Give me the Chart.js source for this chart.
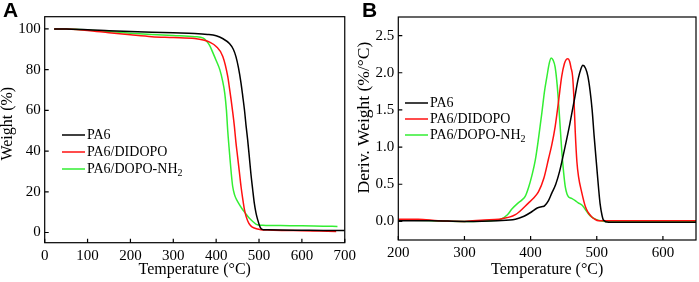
<!DOCTYPE html>
<html>
<head>
<meta charset="utf-8">
<script src="https://cdn.jsdelivr.net/npm/chart.js@4.4.0/dist/chart.umd.min.js"></script>
<style>
  body { margin: 0; background: #fff; }
  #wrap { position: relative; width: 699px; height: 282px; overflow: hidden; }
  canvas { position: absolute; top: 0; }
  .tag { position: absolute; top: -1px; font: bold 21px "Liberation Sans", Arial, sans-serif; line-height: 1; color: #000; }
</style>
</head>
<body>
<div id="wrap">
  <canvas id="tga" width="360" height="282" style="left:0"></canvas>
  <canvas id="dtg" width="350" height="282" style="left:349px"></canvas>
  <div class="tag" style="left:3px">A</div>
  <div class="tag" style="left:362px">B</div>
</div>
<script>
// series names and tick labels
const series_names = ['PA6', 'PA6/DIDOPO', 'PA6/DOPO-NH₂'];
const series_colors = ['#000000', '#ff1010', '#33ee33'];

const tga_x_ticks = [0, 100, 200, 300, 400, 500, 600, 700];
const tga_y_ticks = [0, 20, 40, 60, 80, 100];
const dtg_x_ticks = [200, 300, 400, 500, 600];
const dtg_y_ticks = [0, 0.5, 1.0, 1.5, 2.0, 2.5];

// TGA curves (weight %)
const tga_pa6_temp = [22, 50, 100, 150, 200, 250, 300, 350, 380, 400, 415, 431, 440, 446, 452, 458, 462, 466, 470, 473.5, 477, 481, 485, 489, 493, 497, 501, 505, 510, 520, 550, 600, 650, 700];
const tga_pa6_weight = [100, 99.9, 99.6, 99.1, 98.7, 98.4, 98.1, 97.8, 97.3, 96.6, 95.3, 92.8, 90, 86.5, 81, 73.4, 67, 60.3, 52, 45.5, 38, 29, 21.5, 14.4, 9.5, 6.2, 3.5, 1.8, 1.4, 1.3, 1.2, 1.1, 1.0, 1.0];

const tga_didopo_temp = [22, 50, 100, 150, 200, 250, 300, 350, 370, 385, 400, 415.5, 427, 431, 435, 439, 442.6, 446, 450, 454, 458, 462, 466, 470, 476, 482, 489, 496, 504, 520, 560, 600, 640, 680];
const tga_didopo_weight = [100, 99.9, 99.2, 98.1, 97.1, 96.2, 95.8, 95.3, 94.6, 93.5, 91.4, 86.5, 76.7, 71, 65, 58.5, 52, 44.5, 37.3, 30, 22.6, 16.5, 11.2, 7.8, 4.6, 3, 2.2, 1.7, 1.4, 1.2, 1.0, 0.9, 0.7, 0.5];

const tga_nh2_temp = [22, 50, 100, 150, 200, 250, 300, 350, 370, 377, 385, 393, 400, 408.5, 415, 420, 424, 427, 430, 432.5, 435.5, 438.6, 443, 448, 455, 462, 470, 477, 486, 496, 506, 516, 550, 600, 650, 683];
const tga_nh2_weight = [100, 99.9, 99.5, 98.7, 97.9, 97.3, 96.8, 96.2, 95.5, 94.2, 91.8, 88, 84.5, 80, 74.5, 68.5, 60, 50, 42, 35.7, 28.5, 22.6, 18.5, 16, 13.5, 11.2, 9, 7.1, 5.3, 3.8, 3.6, 3.5, 3.4, 3.3, 3.1, 3.0];

// DTG curves (%/°C)
const dtg_pa6_temp = [200, 250, 300, 350, 377, 390, 400, 410, 418, 421, 427, 432, 438, 444, 451, 459, 466, 472, 476, 479, 483, 486.6, 490, 493, 496, 500, 503, 505, 508, 510, 518, 550, 600, 650];
const dtg_pa6_deriv = [0.01, 0.01, 0.0, 0.01, 0.03, 0.07, 0.12, 0.18, 0.2, 0.21, 0.28, 0.38, 0.5, 0.68, 0.96, 1.3, 1.63, 1.92, 2.05, 2.1, 2.06, 1.95, 1.75, 1.5, 1.15, 0.73, 0.42, 0.24, 0.08, 0.02, -0.01, -0.01, -0.01, -0.01];

const dtg_didopo_temp = [200, 230, 260, 300, 330, 352, 377, 397, 405, 412, 420, 427, 432, 437, 442, 447, 451, 454, 456.5, 459, 461, 463.5, 465.5, 467.5, 470, 472.5, 477, 482.7, 487, 492.6, 497, 502.7, 520, 600, 650];
const dtg_didopo_deriv = [0.03, 0.03, 0.01, 0.0, 0.02, 0.03, 0.09, 0.25, 0.32, 0.4, 0.58, 0.84, 1.03, 1.27, 1.6, 1.95, 2.12, 2.18, 2.19, 2.15, 2.07, 1.95, 1.65, 1.2, 0.8, 0.6, 0.4, 0.2, 0.12, 0.06, 0.03, 0.01, 0.01, 0.01, 0.01];

const dtg_nh2_temp = [200, 250, 300, 340, 355, 365, 372, 380, 387, 392, 397, 402, 407, 412, 417, 421, 424.7, 428, 431, 434, 437, 440, 443, 447, 450, 452.5, 455, 457.5, 462, 467.5, 472, 477.5, 482, 487.6, 492, 497.7, 505, 513, 550, 600, 650];
const dtg_nh2_deriv = [0.02, 0.01, 0.0, 0.01, 0.03, 0.09, 0.17, 0.24, 0.29, 0.34, 0.46, 0.62, 0.82, 1.12, 1.46, 1.75, 1.95, 2.12, 2.2, 2.17, 2.08, 1.85, 1.5, 0.96, 0.65, 0.46, 0.37, 0.33, 0.31, 0.28, 0.25, 0.22, 0.17, 0.1, 0.06, 0.03, 0.01, 0.0, 0.0, 0.0, 0.0];

Chart.defaults.font.family = '"Liberation Serif", "Times New Roman", serif';
Chart.defaults.color = '#000';

function to_points(xs, ys) {
  return xs.map((x, i) => ({ x: x, y: ys[i] }));
}

function make_dataset(i, xs, ys) {
  return {
    label: series_names[i],
    data: to_points(xs, ys),
    borderColor: series_colors[i],
    borderWidth: 1.5,
    pointRadius: 0,
    fill: false,
    cubicInterpolationMode: 'monotone'
  };
}

// box around the plot, inside tick marks and the legend
const framePlugin = {
  id: 'frame',
  afterDraw(chart, args, opts) {
    const ctx = chart.ctx;
    const a = chart.chartArea;
    const sx = chart.scales.x;
    const sy = chart.scales.y;
    ctx.save();
    ctx.strokeStyle = '#000';
    ctx.lineWidth = 1.2;
    ctx.strokeRect(a.left, a.top, a.right - a.left, a.bottom - a.top);
    ctx.beginPath();
    sx.ticks.forEach(t => {
      const px = sx.getPixelForValue(t.value);
      ctx.moveTo(px, a.bottom);
      ctx.lineTo(px, a.bottom - 4);
    });
    sy.ticks.forEach(t => {
      const py = sy.getPixelForValue(t.value);
      ctx.moveTo(a.left, py);
      ctx.lineTo(a.left + 4, py);
    });
    ctx.stroke();

    ctx.textBaseline = 'middle';
    chart.data.datasets.forEach((ds, i) => {
      const y = opts.y + i * opts.gap;
      ctx.strokeStyle = ds.borderColor;
      ctx.lineWidth = 1.5;
      ctx.beginPath();
      ctx.moveTo(opts.x, y);
      ctx.lineTo(opts.x + opts.len, y);
      ctx.stroke();
      ctx.fillStyle = '#000';
      const parts = ds.label.split('₂');
      let tx = opts.x + opts.len + 2;
      ctx.font = '14px "Liberation Serif"';
      ctx.fillText(parts[0], tx, y);
      if (parts.length > 1) {
        tx += ctx.measureText(parts[0]).width;
        ctx.font = '10px "Liberation Serif"';
        ctx.fillText('2', tx, y + 4);
      }
    });
    ctx.restore();
  }
};

function axis(min, max, tickValues, size, title, titleSize, titlePad, fmt) {
  return {
    type: 'linear',
    min: min,
    max: max,
    afterBuildTicks: s => { s.ticks = tickValues.map(v => ({ value: v })); },
    afterFit: s => {
      if (s.isHorizontal()) s.height = size; else s.width = size;
    },
    grid: { display: false, drawTicks: false },
    border: { display: false },
    ticks: {
      padding: 4,
      font: { size: 15 },
      color: '#000',
      callback: fmt || (v => v)
    },
    title: {
      display: true,
      text: title,
      color: '#000',
      font: { size: titleSize, lineHeight: 1 },
      padding: titlePad
    }
  };
}

let tgaChart = new Chart(document.getElementById('tga'), {
  type: 'line',
  data: {
    datasets: [
      make_dataset(0, tga_pa6_temp, tga_pa6_weight),
      make_dataset(1, tga_didopo_temp, tga_didopo_weight),
      make_dataset(2, tga_nh2_temp, tga_nh2_weight)
    ]
  },
  options: {
    responsive: false,
    animation: false,
    layout: { padding: { top: 16.7, right: 14, left: 0, bottom: 0 } },
    plugins: {
      legend: { display: false },
      tooltip: { enabled: false },
      frame: { x: 62, y: 135, gap: 17, len: 23 }
    },
    scales: {
      x: axis(0, 700, tga_x_ticks, 39.3, 'Temperature (°C)', 16, { top: 0, bottom: 4 }),
      y: axis(-5, 106, tga_y_ticks, 44.7, '   Weight (%)', 16, { top: 0, bottom: 0 })
    }
  },
  plugins: [framePlugin]
});

let dtgChart = new Chart(document.getElementById('dtg'), {
  type: 'line',
  data: {
    datasets: [
      make_dataset(0, dtg_pa6_temp, dtg_pa6_deriv),
      make_dataset(1, dtg_didopo_temp, dtg_didopo_deriv),
      make_dataset(2, dtg_nh2_temp, dtg_nh2_deriv)
    ]
  },
  options: {
    responsive: false,
    animation: false,
    layout: { padding: { top: 17, right: 3, left: 0, bottom: 0 } },
    plugins: {
      legend: { display: false },
      tooltip: { enabled: false },
      frame: { x: 56, y: 103, gap: 16, len: 23 }
    },
    scales: {
      x: axis(200, 650, dtg_x_ticks, 42, 'Temperature (°C)', 16, { top: 0, bottom: 4 }),
      y: axis(-0.25, 2.75, dtg_y_ticks, 49.3, '     Deriv. Weight (%/°C)', 17.5, { top: 7, bottom: 0 }, v => v.toFixed(1))
    }
  },
  plugins: [framePlugin]
});
</script>
</body>
</html>
